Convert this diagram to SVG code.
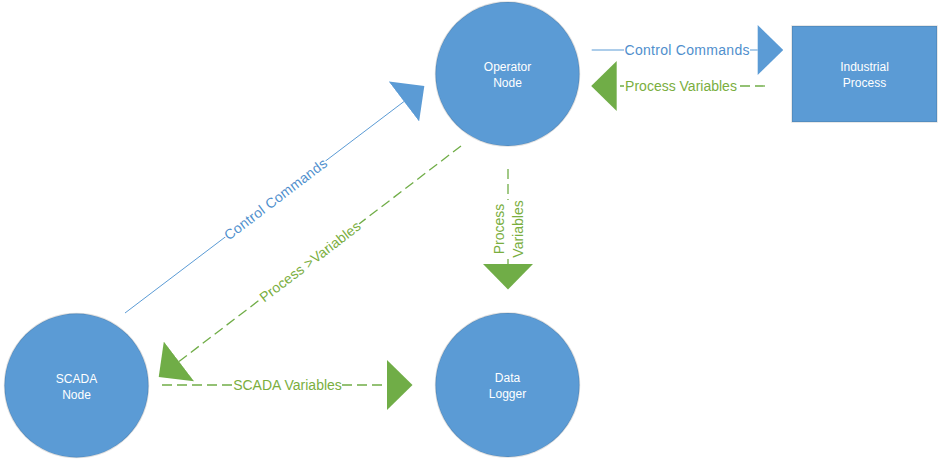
<svg xmlns="http://www.w3.org/2000/svg" width="945" height="465" viewBox="0 0 945 465">
<style>
.node{fill:#5B9BD5;stroke:#000;stroke-opacity:0.12;stroke-width:1.5}
.ntext{font-family:"Liberation Sans",Arial,sans-serif;font-size:12px;fill:#ffffff;text-anchor:middle}
.blue{stroke:#5B9BD5;stroke-width:1;fill:none}
.green{stroke:#70AD47;stroke-width:1.3;fill:none;stroke-dasharray:10 5}
.lbl{font-family:"Liberation Sans",Arial,sans-serif;font-size:14px;text-anchor:middle}
.lb{fill:#4F8FCD}
.lg{fill:#7AAE3E}
.bg{fill:#ffffff}
</style>
<defs>
<marker id="arrowBlue" markerUnits="userSpaceOnUse" markerWidth="26" markerHeight="50" viewBox="0 0 25 49" refX="0" refY="24.5" orient="auto">
<path d="M0,0 L25,24.5 L0,49 Z" fill="#5B9BD5"/>
</marker>
<marker id="arrowGreen" markerUnits="userSpaceOnUse" markerWidth="26" markerHeight="50" viewBox="0 0 25 49" refX="0" refY="24.5" orient="auto">
<path d="M0,0 L25,24.5 L0,49 Z" fill="#70AD47"/>
</marker>
</defs>
<rect width="945" height="465" fill="#ffffff"/>
<g id="connectors">
<g id="c-operator-industrial">
<path class="blue" d="M591.7,50 H757.7" marker-end="url(#arrowBlue)"/>
<rect class="bg" x="624" y="41" width="126" height="17"/>
<text class="lbl lb" x="687" y="55" textLength="125" lengthAdjust="spacing">Control Commands</text>
</g>
<g id="c-industrial-operator">
<path class="green" d="M765,86 H616.7" marker-end="url(#arrowGreen)"/>
<rect class="bg" x="624" y="77" width="114" height="18"/>
<text class="lbl lg" x="681" y="91">Process Variables</text>
</g>
<g id="c-scada-operator">
<path class="blue" d="M125,313 L404,101.5" marker-end="url(#arrowBlue)"/>
<g transform="translate(275.5,199) rotate(-37.2)">
<rect class="bg" x="-63" y="-9" width="126" height="18"/>
<text class="lbl lb" x="0" y="5" textLength="125" lengthAdjust="spacing">Control Commands</text>
</g>
</g>
<g id="c-operator-scada">
<path class="green" d="M461,146 L179,361.5" marker-end="url(#arrowGreen)"/>
<g transform="translate(310,261.5) rotate(-37.4)">
<rect class="bg" x="-62" y="-9" width="124" height="18"/>
<text class="lbl lg" x="0" y="5" textLength="123" lengthAdjust="spacing">Process &gt;Variables</text>
</g>
</g>
<g id="c-scada-logger">
<path class="green" d="M162,385 H387" marker-end="url(#arrowGreen)"/>
<rect class="bg" x="233" y="376" width="109" height="18"/>
<text class="lbl lg" x="287.5" y="390">SCADA Variables</text>
</g>
<g id="c-operator-logger">
<path class="green" d="M508,169 V264" marker-end="url(#arrowGreen)"/>
<rect class="bg" x="490" y="200" width="35" height="57"/>
<text class="lbl lg" transform="translate(503.5,229) rotate(-90)" x="0" y="0">Process</text>
<text class="lbl lg" transform="translate(522.5,229) rotate(-90)" x="0" y="0">Variables</text>
</g>
</g>
<g id="operator-node">
<circle class="node" cx="507.5" cy="74" r="72"/>
<text class="ntext" x="507.5" y="70.5">Operator</text>
<text class="ntext" x="507.5" y="86.5">Node</text>
</g>
<g id="industrial-process">
<rect class="node" x="792" y="26" width="145" height="96"/>
<text class="ntext" x="864.5" y="70.5">Industrial</text>
<text class="ntext" x="864.5" y="86.5">Process</text>
</g>
<g id="scada-node">
<circle class="node" cx="76.5" cy="385.5" r="72"/>
<text class="ntext" x="76.5" y="382.5">SCADA</text>
<text class="ntext" x="76.5" y="398.5">Node</text>
</g>
<g id="data-logger">
<circle class="node" cx="507.5" cy="385" r="72"/>
<text class="ntext" x="507.5" y="381.5">Data</text>
<text class="ntext" x="507.5" y="397.5">Logger</text>
</g>
</svg>
